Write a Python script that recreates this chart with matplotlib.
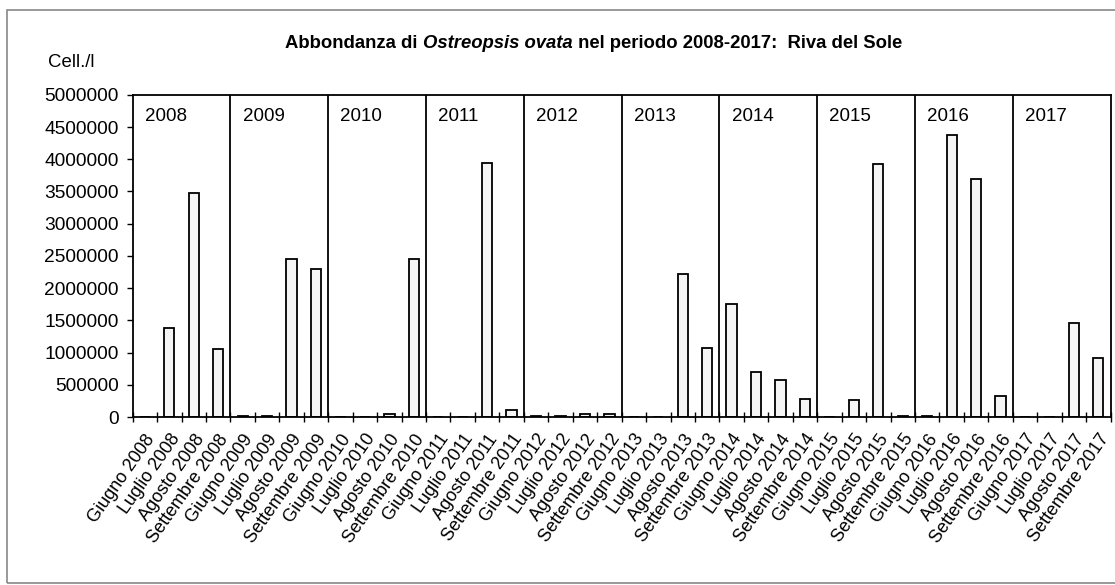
#!/usr/bin/env python3
import matplotlib
matplotlib.use("Agg")
import matplotlib.pyplot as plt
import matplotlib.patches as mpatches
import numpy as np

plt.rcParams["font.family"] = ["Liberation Sans", "DejaVu Sans"]

YEARS = [2008, 2009, 2010, 2011, 2012, 2013, 2014, 2015, 2016, 2017]
MONTHS = ["Giugno", "Luglio", "Agosto", "Settembre"]
LABELS = [f"{m} {y}" for y in YEARS for m in MONTHS]

# Cell./l, one value per month (Giugno..Settembre) for each year
V2008 = [8000, 1380000, 3470000, 1050000]
V2009 = [20000, 20000, 2460000, 2290000]
V2010 = [0, 0, 50000, 2460000]
V2011 = [0, 0, 3940000, 110000]
V2012 = [20000, 20000, 50000, 50000]
V2013 = [0, 3000, 2220000, 1070000]
V2014 = [1750000, 700000, 580000, 280000]
V2015 = [0, 270000, 3930000, 20000]
V2016 = [15000, 4370000, 3690000, 320000]
V2017 = [0, 5000, 1460000, 910000]
VALUES = V2008 + V2009 + V2010 + V2011 + V2012 + V2013 + V2014 + V2015 + V2016 + V2017

fig = plt.figure(figsize=(11.15, 5.85), dpi=100)
ax = fig.add_axes([0.119, 0.287, 0.877, 0.551])

x = np.arange(len(VALUES))
ax.bar(x, VALUES, width=0.42, color="#f5f5f5", edgecolor="black", linewidth=1.3)

ax.set_xlim(-0.5, len(VALUES) - 0.5)
ax.set_ylim(0, 5000000)
yt = np.arange(0, 5000001, 500000)
ax.set_yticks(yt)
ax.set_yticklabels([str(v) for v in yt], fontsize=13.8)
ax.tick_params(axis="y", direction="out", length=4, width=1, pad=6)

ax.set_xticks(x)
ax.set_xticklabels(LABELS, rotation=55, ha="right", rotation_mode="anchor", fontsize=13)
ax.tick_params(axis="x", which="major", length=0, pad=10)
ax.set_xticks(np.arange(-0.5, len(VALUES), 1), minor=True)
ax.tick_params(axis="x", which="minor", direction="inout", length=7, width=1)

for s in ax.spines.values():
    s.set_linewidth(1.3)

for i, y in enumerate(YEARS):
    if i > 0:
        ax.axvline(i * 4 - 0.5, color="black", lw=1.3)
    ax.text(i * 4, 0.96, str(y), transform=ax.get_xaxis_transform(),
            ha="left", va="top", fontsize=13.5)

fig.text(0.043, 0.893, "Cell./l", fontsize=13.4, ha="left", va="center")

# title with italic species name, pieces placed side by side
r = fig.canvas.get_renderer()
parts = [("Abbondanza di ", "normal"), ("Ostreopsis ovata", "italic"),
         (" nel periodo 2008-2017:  Riva del Sole", "normal")]
xpos = 0.256
for txt, style in parts:
    tt = fig.text(xpos, 0.925, txt, fontsize=13.3, fontweight="bold", style=style,
                  ha="left", va="center")
    xpos += tt.get_window_extent(renderer=r).width / fig.bbox.width

fig.patches.append(mpatches.Rectangle((0.006, 0.003), 1.2, 0.98, transform=fig.transFigure,
                                      fill=False, edgecolor="#888888", lw=1.2))

fig.savefig("out.png", dpi=100)
